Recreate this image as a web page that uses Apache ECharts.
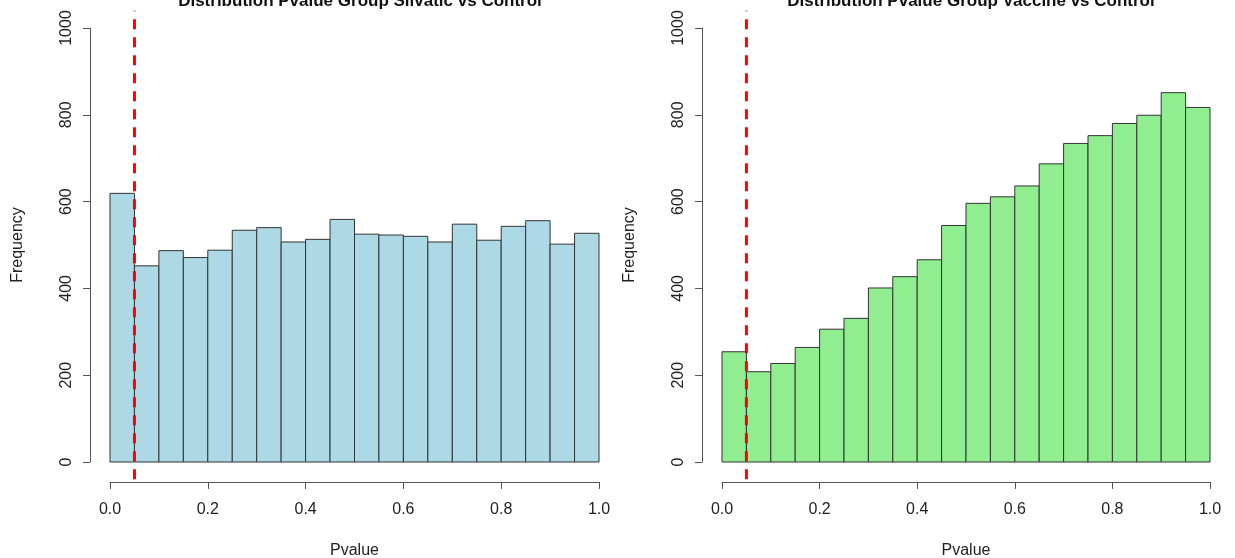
<!DOCTYPE html>
<html>
<head>
<meta charset="utf-8">
<script src="https://cdn.jsdelivr.net/npm/echarts@6/dist/echarts.min.js"></script>
<style>
html,body{margin:0;padding:0;background:#fff;}
#c{width:1235px;height:558px;}
</style>
</head>
<body>
<div id="c"></div>
<script>
// Bin edges (Pvalue), 0.05 wide
const binStarts = [0.00,0.05,0.10,0.15,0.20,0.25,0.30,0.35,0.40,0.45,0.50,0.55,0.60,0.65,0.70,0.75,0.80,0.85,0.90,0.95];
const binEnds   = [0.05,0.10,0.15,0.20,0.25,0.30,0.35,0.40,0.45,0.50,0.55,0.60,0.65,0.70,0.75,0.80,0.85,0.90,0.95,1.00];
const silvaticCounts = [619,452,487,471,488,534,540,507,513,559,525,523,520,507,548,511,543,556,502,527];
const vaccineCounts  = [254,208,227,264,306,331,401,427,466,545,596,611,636,687,734,752,780,799,851,817];
const xTicks = [0.0,0.2,0.4,0.6,0.8,1.0];
const yTicks = [0,200,400,600,800,1000];
const cutoff = 0.05;
const titles = ['Distribution Pvalue Group Silvatic vs Control','Distribution Pvalue Group Vaccine vs Control'];

const font = 'Liberation Sans, Arial, Helvetica, sans-serif';
const chart = echarts.init(document.getElementById('c'));

function histData(counts){ return counts.map((v,i)=>[binStarts[i],binEnds[i],v]); }

function renderBar(fill){
  return function(params, api){
    const p0 = api.coord([api.value(0), api.value(2)]);
    const p1 = api.coord([api.value(1), 0]);
    return {type:'rect', shape:{x:p0[0], y:p0[1], width:p1[0]-p0[0], height:p1[1]-p0[1]},
      style:{fill:fill, stroke:'#333', lineWidth:1}};
  };
}

const grids = [
  {left:110, top:28, width:489, height:434, outerBoundsMode:'none', containLabel:false},
  {left:722, top:28, width:488, height:434, outerBoundsMode:'none', containLabel:false}
];
function xAxisOf(i){
  return {gridIndex:i, type:'value', position:'bottom', min:xTicks[0], max:xTicks[xTicks.length-1], interval:0.2, offset:20,
    name:'Pvalue', nameLocation:'middle', nameGap:61, nameTextStyle:{fontFamily:font, fontSize:16, color:'#222'},
    axisLine:{show:true, onZero:false, lineStyle:{color:'#555', width:1}},
    axisTick:{show:true, length:7, lineStyle:{color:'#555'}},
    axisLabel:{margin:20, fontFamily:font, fontSize:16, color:'#222', formatter:v=>v.toFixed(1)},
    splitLine:{show:false}};
}
function yAxisOf(i){
  return {gridIndex:i, type:'value', position:'left', min:yTicks[0], max:yTicks[yTicks.length-1], interval:200, offset:20,
    name:'Frequency', nameLocation:'middle', nameGap:64, nameRotate:90, nameTextStyle:{fontFamily:font, fontSize:16, color:'#222'},
    axisLine:{show:true, onZero:false, lineStyle:{color:'#555', width:1}},
    axisTick:{show:true, length:7, lineStyle:{color:'#555'}},
    axisLabel:{margin:15, rotate:90, fontFamily:font, fontSize:16, color:'#222', formatter:v=>String(v)},
    splitLine:{show:false}};
}
function cutoffLine(i){
  return {type:'line', xAxisIndex:i, yAxisIndex:i, clip:false, symbol:'none', silent:true, z:10,
    data:[[cutoff,-40],[cutoff,1040]],
    lineStyle:{color:'#ff0000', width:3, type:[10,8]}};
}

chart.setOption({
  animation:false,
  backgroundColor:'#fff',
  title:[
    {text:titles[0], left:355, top:-12, textAlign:'center', textStyle:{fontFamily:font, fontSize:17, fontWeight:'bold', color:'#111'}},
    {text:titles[1], left:966, top:-12, textAlign:'center', textStyle:{fontFamily:font, fontSize:17, fontWeight:'bold', color:'#111'}}
  ],
  grid:grids,
  xAxis:[xAxisOf(0), xAxisOf(1)],
  yAxis:[yAxisOf(0), yAxisOf(1)],
  series:[
    {type:'custom', xAxisIndex:0, yAxisIndex:0, renderItem:renderBar('#add8e6'), data:histData(silvaticCounts), encode:{x:[0,1], y:2}},
    {type:'custom', xAxisIndex:1, yAxisIndex:1, renderItem:renderBar('#90ee90'), data:histData(vaccineCounts), encode:{x:[0,1], y:2}},
    cutoffLine(0), cutoffLine(1)
  ]
});
</script>
</body>
</html>
